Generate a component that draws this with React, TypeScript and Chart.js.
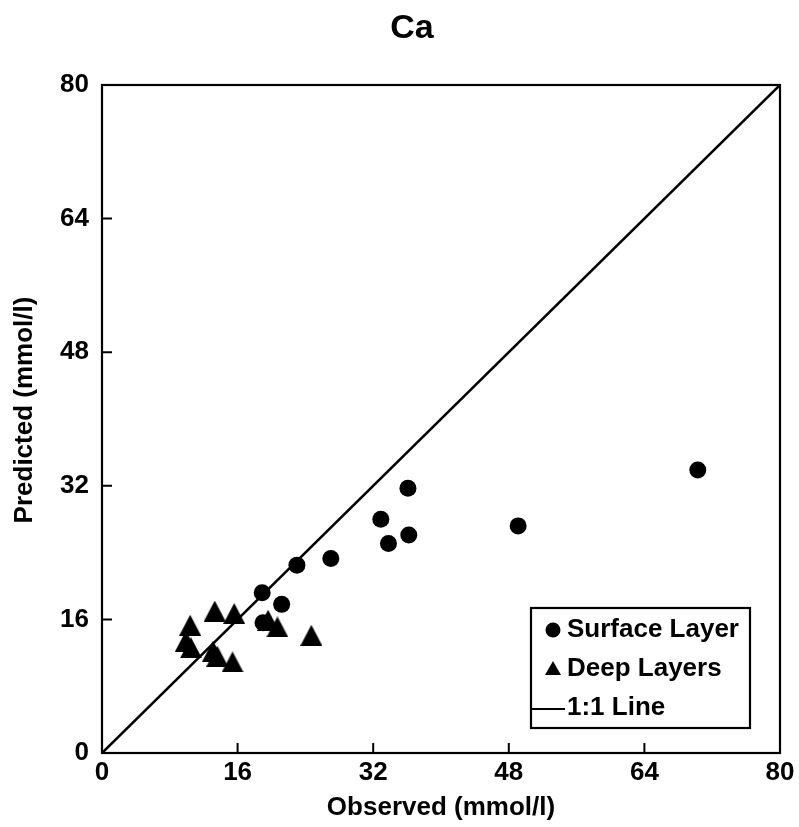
import React, { useEffect, useRef } from "react";
import { Chart, registerables } from "chart.js";

Chart.register(...registerables);

// Surface layer samples (observed vs predicted Ca, mmol/l)
const surfaceObserved = [70.3, 49.1, 36.1, 32.9, 36.2, 33.8, 27.0, 23.0, 18.9, 21.2, 19.0];
const surfacePredicted = [33.9, 27.2, 31.7, 28.0, 26.1, 25.1, 23.3, 22.5, 19.2, 17.8, 15.6];

// Deep layer samples
const deepObserved = [13.3, 15.6, 10.4, 9.9, 10.5, 13.1, 13.6, 15.4, 19.6, 20.7, 24.7];
const deepPredicted = [17.0, 16.7, 15.3, 13.4, 12.6, 12.2, 11.6, 10.9, 15.9, 15.1, 14.1];

// 1:1 reference line end points
const oneToOne = [0, 80];

const axisMin = 0;
const axisMax = 80;
const tickStep = 16;
const tickValues = [16, 32, 48, 64];

const chartTitle = "Ca";
const xTitle = "Observed (mmol/l)";
const yTitle = "Predicted (mmol/l)";
const legendLabels = ["Surface Layer", "Deep Layers", "1:1 Line"];

const FONT = "'Liberation Sans', Arial, Helvetica, sans-serif";

function makeTriangle(w: number, h: number): HTMLCanvasElement {
  const c = document.createElement("canvas");
  c.width = w;
  c.height = h;
  const ctx = c.getContext("2d")!;
  ctx.fillStyle = "#000";
  ctx.beginPath();
  ctx.moveTo(w / 2, 0);
  ctx.lineTo(w, h);
  ctx.lineTo(0, h);
  ctx.closePath();
  ctx.fill();
  return c;
}

const decorPlugin = {
  id: "decor",
  afterDraw(chart: any) {
    const { ctx, chartArea } = chart;
    const xs = chart.scales.x;
    const ys = chart.scales.y;
    const { left, right, top, bottom } = chartArea;
    ctx.save();
    ctx.strokeStyle = "#000";
    ctx.fillStyle = "#000";

    // frame
    ctx.lineWidth = 2.2;
    ctx.strokeRect(left, top, right - left, bottom - top);

    // inward tick marks on left and bottom
    ctx.lineWidth = 2;
    ctx.beginPath();
    for (const v of tickValues) {
      const px = xs.getPixelForValue(v);
      ctx.moveTo(px, bottom);
      ctx.lineTo(px, bottom - 10);
      const py = ys.getPixelForValue(v);
      ctx.moveTo(left, py);
      ctx.lineTo(left + 10, py);
    }
    ctx.stroke();

    // chart title
    ctx.textAlign = "center";
    ctx.textBaseline = "middle";
    ctx.font = `bold 34px ${FONT}`;
    ctx.fillText(chartTitle, 412, 29);

    // axis titles
    ctx.font = `bold 26px ${FONT}`;
    ctx.fillText(xTitle, (left + right) / 2, 808);
    ctx.save();
    ctx.translate(25, (top + bottom) / 2 - 9);
    ctx.rotate(-Math.PI / 2);
    ctx.fillText(yTitle, 0, 0);
    ctx.restore();

    // legend box
    const bx = 531, by = 608, bw = 219, bh = 120;
    ctx.lineWidth = 2.2;
    ctx.strokeRect(bx, by, bw, bh);
    ctx.textAlign = "left";
    ctx.textBaseline = "middle";
    ctx.font = `bold 26px ${FONT}`;

    // circle
    ctx.beginPath();
    ctx.arc(553, 630, 7.5, 0, Math.PI * 2);
    ctx.fill();
    ctx.fillText(legendLabels[0], 567, 630);

    // triangle
    ctx.beginPath();
    ctx.moveTo(553, 661);
    ctx.lineTo(561, 675);
    ctx.lineTo(545, 675);
    ctx.closePath();
    ctx.fill();
    ctx.fillText(legendLabels[1], 567, 669);

    // line
    ctx.lineWidth = 2;
    ctx.beginPath();
    ctx.moveTo(532, 709);
    ctx.lineTo(565, 709);
    ctx.stroke();
    ctx.fillText(legendLabels[2], 567, 708);

    ctx.restore();
  },
};

export default function App() {
  const canvasRef = useRef<HTMLCanvasElement | null>(null);

  useEffect(() => {
    document.body.style.margin = "0";
    const canvas = canvasRef.current;
    if (!canvas) return;
    const tri = makeTriangle(22, 21);

    const surface = surfaceObserved.map((x, i) => ({ x, y: surfacePredicted[i] }));
    const deep = deepObserved.map((x, i) => ({ x, y: deepPredicted[i] }));
    const line = oneToOne.map((v) => ({ x: v, y: v }));

    const tickFont = { family: FONT, size: 26, weight: "bold" as const };

    const chart = new Chart(canvas, {
      type: "scatter",
      data: {
        datasets: [
          {
            type: "line",
            label: legendLabels[2],
            data: line,
            borderColor: "#000",
            borderWidth: 2.6,
            pointRadius: 0,
            showLine: true,
          } as any,
          {
            label: legendLabels[0],
            data: surface,
            pointStyle: "circle",
            pointRadius: 8.5,
            backgroundColor: "#000",
            borderWidth: 0,
          },
          {
            label: legendLabels[1],
            data: deep,
            pointStyle: tri as any,
            pointRadius: 11,
            backgroundColor: "#000",
            borderWidth: 0,
          },
        ],
      },
      options: {
        animation: false,
        responsive: false,
        devicePixelRatio: 1,
        layout: { padding: { top: 85, right: 19, left: 0, bottom: 0 } },
        plugins: {
          legend: { display: false },
          title: { display: false },
          tooltip: { enabled: false },
        },
        scales: {
          x: {
            type: "linear",
            min: axisMin,
            max: axisMax,
            ticks: { stepSize: tickStep, color: "#000", font: tickFont, padding: 4, maxRotation: 0 },
            grid: { display: false, drawTicks: false },
            border: { display: false },
            afterFit: (s: any) => {
              s.height = 74;
            },
          },
          y: {
            type: "linear",
            min: axisMin,
            max: axisMax,
            ticks: { stepSize: tickStep, color: "#000", font: tickFont, padding: 13 },
            grid: { display: false, drawTicks: false },
            border: { display: false },
            afterFit: (s: any) => {
              s.width = 102;
            },
          },
        },
      },
      plugins: [decorPlugin],
    });

    return () => chart.destroy();
  }, []);

  return (
    <div style={{ width: 799, height: 827 }}>
      <canvas ref={canvasRef} width={799} height={827} style={{ display: "block" }} />
    </div>
  );
}
